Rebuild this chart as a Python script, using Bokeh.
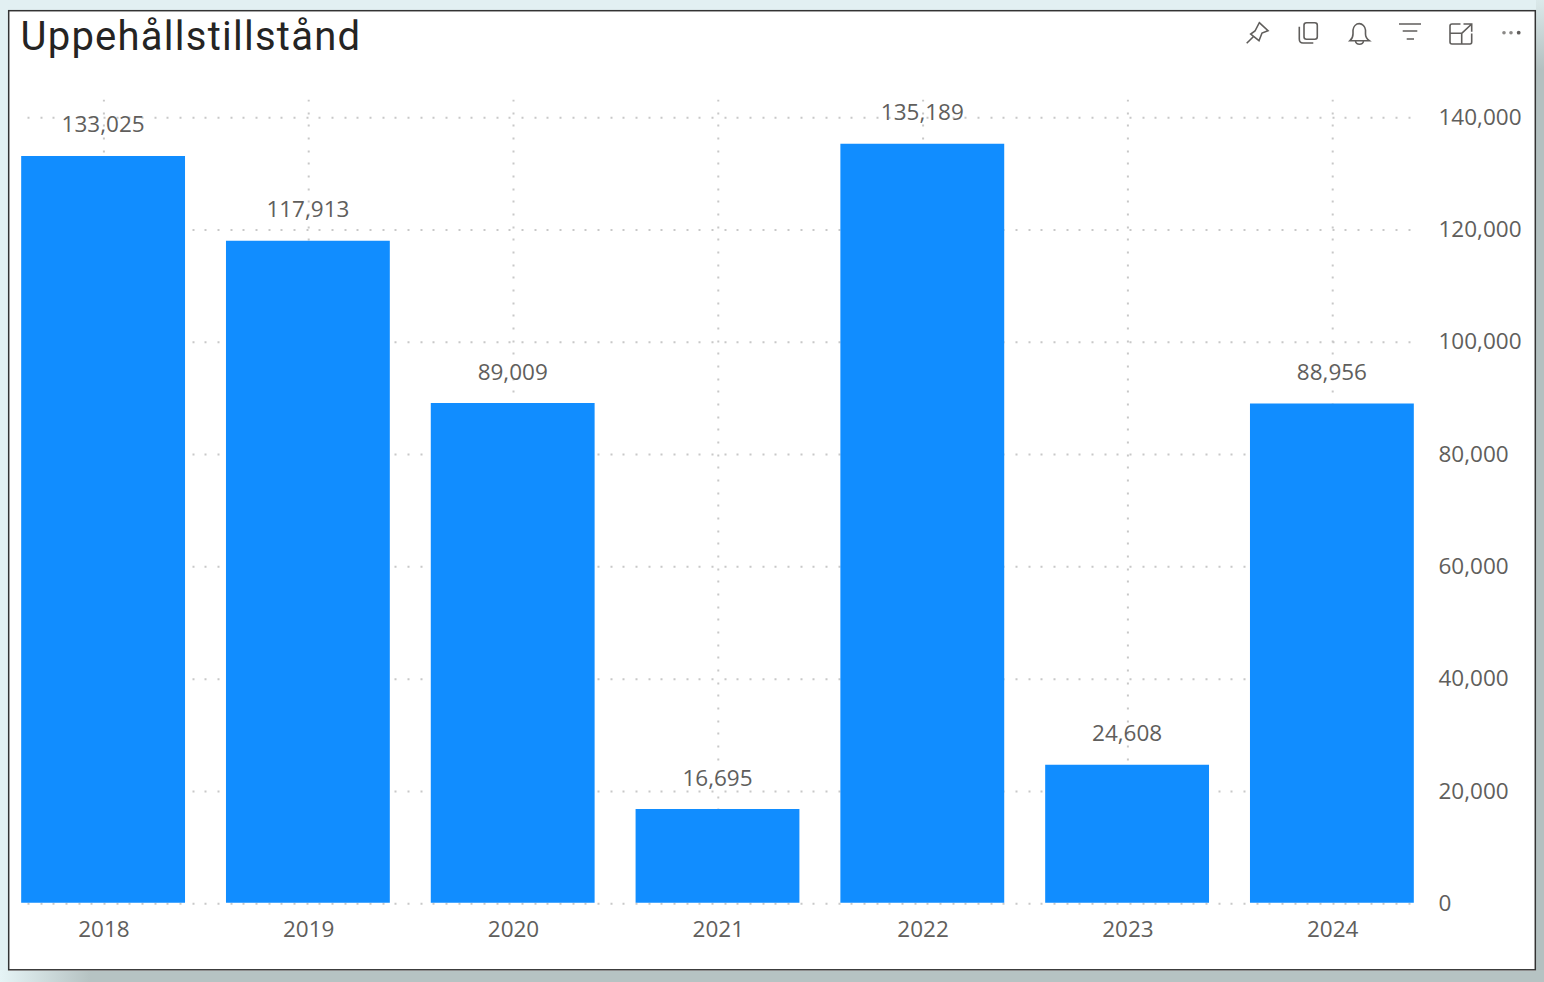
from bokeh.plotting import figure
from bokeh.embed import file_html
from bokeh.resources import INLINE
from bokeh.core.properties import value
from bokeh.models import Range1d, FixedTicker, NumeralTickFormatter

title = "Uppehållstillstånd"
years = [2018, 2019, 2020, 2021, 2022, 2023, 2024]
values = [133025, 117913, 89009, 16695, 135189, 24608, 88956]
y_ticks = [0, 20000, 40000, 60000, 80000, 100000, 120000, 140000]
labels = [f"{v:,}" for v in values]

BAR = "#118dff"
TXT = "#605e5c"
GRID = "#c8c8c8"
OX, OY = 8, 10            # page position of the canvas
PX_X = 204.8              # px per year
PX_Y = 786 / 140000       # px per unit
LEFT, RIGHT, TOP, BOTTOM = 14, 1420, 99, 906
ZERO_X, ZERO_Y = 103.4, 902.3

x_start = years[0] - (ZERO_X - LEFT) / PX_X
x_end = years[0] + (RIGHT - ZERO_X) / PX_X
y_start = -(BOTTOM - ZERO_Y) / PX_Y
y_end = (ZERO_Y - TOP) / PX_Y
gx0 = years[0] - (ZERO_X - 27) / PX_X
gx1 = years[0] + (1415 - ZERO_X) / PX_X
# the reference's bars sit just under a pixel up and left of its gridlines and ticks
bar_x = [y - 0.8 / PX_X for y in years]
grid_y = [t - 0.9 / PX_Y for t in y_ticks]

p = figure(width=1528, height=961, frame_width=RIGHT - LEFT, frame_height=BOTTOM - TOP,
           min_border_left=LEFT - OX, min_border_right=OX + 1528 - RIGHT,
           min_border_top=TOP - OY, min_border_bottom=OY + 961 - BOTTOM,
           x_range=Range1d(x_start, x_end), y_range=Range1d(y_start, y_end),
           output_backend="svg", toolbar_location=None, x_axis_location="below",
           y_axis_location="right", background_fill_color="white", border_fill_color="white",
           styles={"background": "white"})
p.outline_line_color = None
p.grid.visible = False

DASH = "2 11 2 10 2 11"
p.segment(x0=[gx0] * len(grid_y), x1=[gx1] * len(grid_y), y0=grid_y, y1=grid_y,
          line_color=GRID, line_width=2, line_dash=DASH)
p.segment(x0=years, x1=years, y0=[y_end] * len(years), y1=[0] * len(years),
          line_color=GRID, line_width=2, line_dash=DASH)

p.vbar(x=bar_x, top=values, bottom=0, width=0.8, fill_color=BAR, line_color=None)

p.text(x=bar_x, y=values, text=labels, text_align="center", text_baseline="middle",
       y_offset=-31.5, text_color=TXT, text_font=value("Open Sans"), text_font_size="22.5px")

xa = p.xaxis[0]
xa.ticker = FixedTicker(ticks=years)
xa.major_label_overrides = {y: str(y) for y in years}
xa.axis_line_color = None
xa.major_tick_line_color = None
xa.minor_tick_line_color = None
xa.major_label_standoff = 8
xa.major_label_text_font = "Open Sans"
xa.major_label_text_font_size = "22.5px"
xa.major_label_text_color = TXT

ya = p.yaxis[0]
ya.ticker = FixedTicker(ticks=y_ticks)
ya.formatter = NumeralTickFormatter(format="0,0")
ya.axis_line_color = None
ya.major_tick_line_color = None
ya.minor_tick_line_color = None
ya.major_label_standoff = 12
ya.major_label_text_font = "Open Sans"
ya.major_label_text_font_size = "22.5px"
ya.major_label_text_color = TXT

# Title, visual-header icons and card border, as a page overlay (they sit outside Bokeh's plot frame)
overlay = f"""<svg xmlns="http://www.w3.org/2000/svg" width="1544" height="982"
 style="position:absolute;left:0;top:0;pointer-events:none" fill="none" stroke="{TXT}" stroke-width="1.6">
<rect x="8.7" y="10.7" width="1526.6" height="959.1" stroke="#333333" stroke-width="1.5"/>
<text x="20.5" y="50" stroke="none" fill="#252423" font-family="Roboto" font-size="40" letter-spacing="1.25">{title}</text>
<path d="M1259.3 22.7L1268 30.7L1262 33L1259 40.7L1250.7 34L1255 31ZM1246.7 43.3L1253.3 36.7"/>
<rect x="1304" y="22.7" width="13.3" height="16.6" rx="2.5"/>
<path d="M1299.3 26.7V39Q1299.3 43 1303 43H1313.3"/>
<path d="M1350 40.7Q1353 38 1353 34V30A6.3 7.3 0 0 1 1365.5 30V34Q1365.5 38 1369.3 40.7ZM1355.5 41A4 3.2 0 0 0 1363.5 41"/>
<path d="M1399 24H1421M1402.7 31H1417.3M1406.7 39H1414"/>
<path d="M1460.5 24H1452Q1450 24 1450 26V42Q1450 44 1452 44H1470Q1471.7 44 1471.7 42V33.5M1450 33.3H1461.7V44M1461.7 33.3L1471.7 24M1463.5 24H1471.7V31.7"/>
<g stroke="none"><circle cx="1504" cy="32.7" r="1.8" fill="#8a8886"/><circle cx="1511" cy="32.7" r="1.8" fill="#8a8886"/><circle cx="1518.7" cy="32.7" r="1.9" fill="{TXT}"/></g>
</svg>"""

html = file_html(p, INLINE)
css = """<style>
html,body{height:982px;overflow:hidden}
html{background:linear-gradient(to right,#e6f4f6 0,#b6c3c3 90px,#b6c3c3 100%) bottom/100% 12px no-repeat,
linear-gradient(to bottom,#dbe9ea 0,#b3c0c0 70px,#b3c0c0 100%) right/8px 100% no-repeat,#e2f0f2}
body{margin:10px 8px 0 8px;background:transparent}
</style>"""
html = html.replace("</head>", css + "</head>", 1)
html = html.replace("</body>", overlay + "</body>", 1)
open("out.html", "w").write(html)
